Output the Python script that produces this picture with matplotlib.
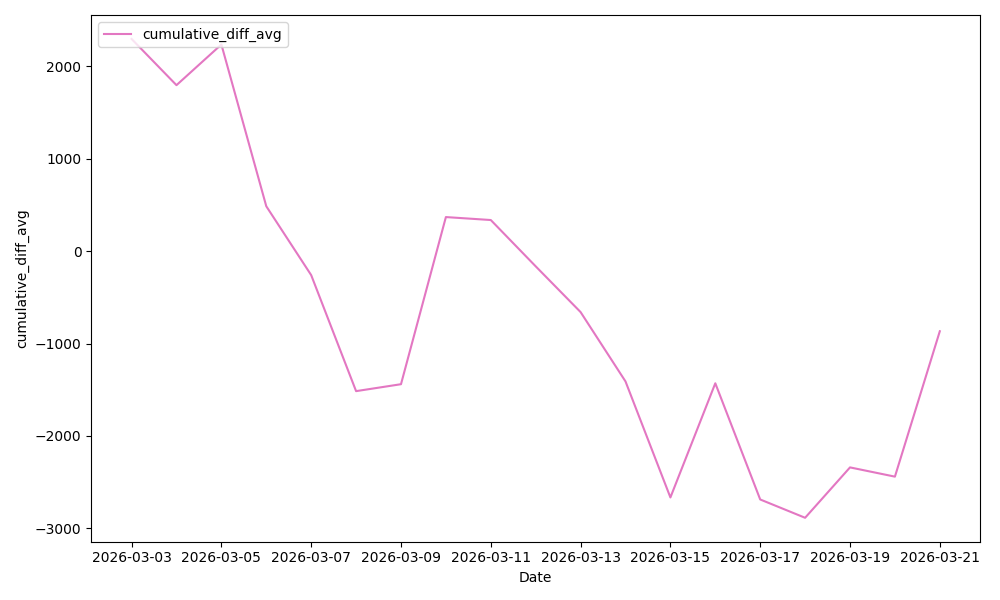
import pandas as pd
import matplotlib
matplotlib.use('Agg')
import matplotlib.pyplot as plt

dates = pd.date_range('2026-03-03', '2026-03-21', freq='D')
cumulative_diff_avg = [2295, 1795, 2235, 485, -260, -1515, -1440, 368, 336, -165,
                       -660, -1410, -2665, -1430, -2687, -2885, -2340, -2440, -867]

fig, ax = plt.subplots(figsize=(10, 6), dpi=100)
ax.plot(dates, cumulative_diff_avg, color='tab:pink', label='cumulative_diff_avg')
ax.set_xticks(dates[::2])
ax.set_xlabel('Date')
ax.set_ylabel('cumulative_diff_avg')
ax.legend(loc='upper left')
plt.tight_layout()
plt.savefig('out.png')
